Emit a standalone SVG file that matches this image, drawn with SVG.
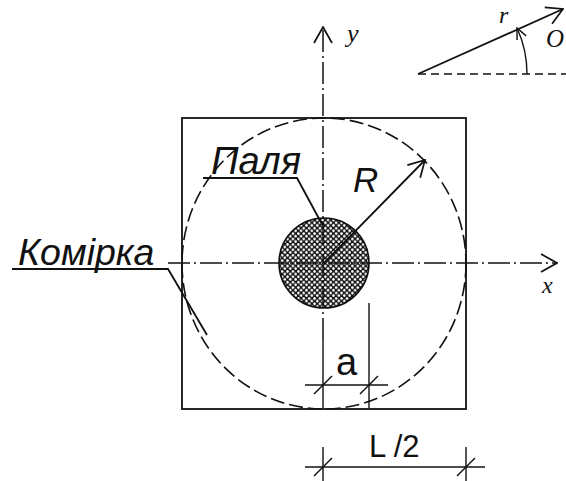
<svg xmlns="http://www.w3.org/2000/svg" width="566" height="481" viewBox="0 0 566 481">
<style>
.ln{stroke:#111;stroke-width:1.8;fill:none}
.thin{stroke:#111;stroke-width:1.4;fill:none}
.axis{stroke:#111;stroke-width:1.5;fill:none;stroke-dasharray:22 4 2 4}
.dash{stroke:#111;stroke-width:1.6;fill:none;stroke-dasharray:14 5}
.sans{font-family:"Liberation Sans",Arial,sans-serif;fill:#111}
.serif{font-family:"Liberation Serif","Times New Roman",serif;font-style:italic;fill:#111}
</style>
<defs>
<marker id="arr" viewBox="-18 -11 19 22" refX="0" refY="0" markerWidth="19" markerHeight="22" markerUnits="userSpaceOnUse" orient="auto">
<path d="M-16,-9 L0,0 L-16,9" fill="none" stroke="#111" stroke-width="1.7"/>
</marker>
<marker id="arrs" viewBox="-13 -7 14 14" refX="0" refY="0" markerWidth="14" markerHeight="14" markerUnits="userSpaceOnUse" orient="auto">
<path d="M-11,-5 L0,0 L-11,5" fill="none" stroke="#111" stroke-width="1.4"/>
</marker>
<pattern id="hatch" x="0" y="0" width="5.4" height="5.4" patternUnits="userSpaceOnUse">
<rect width="5.4" height="5.4" fill="#111"/>
<polygon points="1.35,-0.35 3.05,1.35 1.35,3.05 -0.35,1.35" fill="#fff"/>
<polygon points="4.05,2.35 5.75,4.05 4.05,5.75 2.35,4.05" fill="#fff"/>
</pattern>
</defs>
<rect width="566" height="481" fill="#fff"/>

<g id="cell">
<rect x="182" y="118" width="284" height="291" class="ln"/>
<ellipse cx="324" cy="263.5" rx="142" ry="145.5" class="dash"/>
</g>

<g id="pile">
<circle cx="324" cy="263" r="45" fill="url(#hatch)" stroke="#111" stroke-width="1.6"/>
</g>

<g id="connectors">
<line x1="168" y1="263" x2="557" y2="263" class="axis" marker-end="url(#arr)"/>
<line x1="323" y1="340" x2="323" y2="27" class="axis" marker-end="url(#arr)"/>
<line x1="323" y1="340" x2="323" y2="408" class="thin"/>
<line x1="324" y1="263" x2="425" y2="160" class="ln" marker-end="url(#arr)"/>
<polyline points="203,178 297,178 323,226" class="ln"/>
<polyline points="12,269 168,269 207,335" class="ln"/>
<line x1="369" y1="303" x2="369" y2="408" class="thin"/>
<line x1="305" y1="385" x2="388" y2="385" class="thin"/>
<line x1="314" y1="394" x2="332" y2="376" class="thin"/>
<line x1="360" y1="394" x2="378" y2="376" class="thin"/>
<line x1="323" y1="447" x2="323" y2="481" class="thin"/>
<line x1="466" y1="447" x2="466" y2="481" class="thin"/>
<line x1="305" y1="467" x2="485" y2="467" class="thin"/>
<line x1="314" y1="476" x2="332" y2="458" class="thin"/>
<line x1="457" y1="476" x2="475" y2="458" class="thin"/>
</g>

<g id="polar">
<line x1="418" y1="74" x2="563" y2="9" class="ln" marker-end="url(#arr)"/>
<line x1="418" y1="74" x2="566" y2="74" class="thin" stroke-dasharray="8 5"/>
<path d="M527,74 A109,109 0 0 0 517,28" class="thin" marker-end="url(#arrs)"/>
</g>

<g id="labels">
<text x="211" y="174" class="sans" font-style="italic" font-size="38">Паля</text>
<text x="18" y="265" class="sans" font-style="italic" font-size="37.5">Комірка</text>
<text x="353" y="192" class="sans" font-style="italic" font-size="35">R</text>
<text x="336" y="375" class="sans" font-size="38">a</text>
<text x="369" y="457" class="sans" font-size="31">L /2</text>
<text x="542" y="293" class="serif" font-size="24">x</text>
<text x="347" y="42" class="serif" font-size="26">y</text>
<text x="499" y="23" class="serif" font-size="24">r</text>
<text x="546" y="47" class="serif" font-size="25">O</text>
</g>
</svg>
